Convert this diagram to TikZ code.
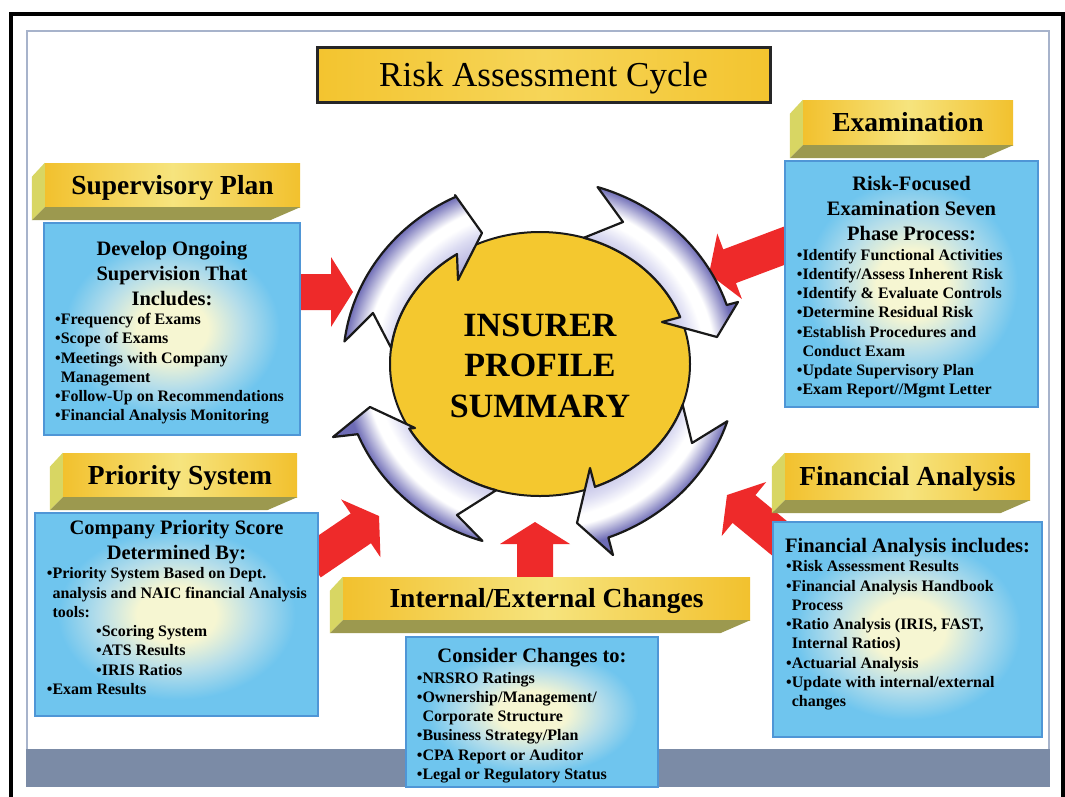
\documentclass[tikz,border=0pt]{standalone}
\usepackage{fontspec}
\setmainfont{Liberation Serif}
\usetikzlibrary{calc,shapes.geometric}

\definecolor{labY}{HTML}{F2C12E}
\definecolor{labL}{HTML}{F6E47E}
\definecolor{labSide}{HTML}{D8D663}
\definecolor{labBot}{HTML}{9C994F}
\definecolor{titY}{HTML}{F3C42F}
\definecolor{titL}{HTML}{F6D558}
\definecolor{boxB}{HTML}{6FC5EE}
\definecolor{boxM}{HTML}{B4DDEA}
\definecolor{boxC}{HTML}{F6F6D2}
\definecolor{boxLine}{HTML}{4F96D6}
\definecolor{redA}{HTML}{EE2A2A}
\definecolor{coreY}{HTML}{F4C82F}
\definecolor{bandG}{HTML}{7B8BA6}
\definecolor{frameL}{HTML}{A7B3CB}
\definecolor{lavD}{HTML}{6E6CB6}
\definecolor{lavM}{HTML}{A9A7DA}
\definecolor{lavL}{HTML}{DCDCF2}

\pgfdeclareradialshading{boxshade}{\pgfpoint{0bp}{0bp}}{color(0bp)=(boxC); color(7bp)=(boxC); color(14bp)=(boxM); color(21bp)=(boxB); color(50bp)=(boxB)}
\pgfdeclareradialshading{bandshade}{\pgfpoint{0bp}{0bp}}{color(0bp)=(lavM); color(12bp)=(lavM); color(15bp)=(lavL); color(16.5bp)=(white); color(17.5bp)=(white); color(19.7bp)=(lavD); color(23bp)=(lavD); color(50bp)=(lavD)}

\pgfdeclarelayer{back}
\pgfdeclarelayer{reds}
\pgfdeclarelayer{ring}
\pgfsetlayers{back,reds,ring,main}

% red block arrow from #1 to tip #2
\newcommand\redarrow[2]{%
  \coordinate (#2b) at ($(#2)!22pt!(#1)$);
  \fill[redarr] ($(#1)!18pt!90:(#2)$) -- ($(#2b)!18pt!90:(#2)$) -- ($(#2b)!35pt!90:(#2)$) -- (#2)
    -- ($(#2b)!35pt!-90:(#2)$) -- ($(#2b)!18pt!-90:(#2)$) -- ($(#1)!18pt!-90:(#2)$) -- cycle;}

% curved cycle arrow: #1 tail angle, #2 outer end angle, #3 inner end angle, #4 prefix of head points
\newcommand\ringpath[4]{plot[domain=#1:#2,samples=40,variable=\t]({540+197*cos(\t)},{364-185*sin(\t)})
  -- (#4HO) -- (#4AP) -- (#4HI)
  -- plot[domain=#3:#1,samples=40,variable=\t]({540+150*cos(\t)},{364-132*sin(\t)})
  -- (#4NT) -- cycle}

\newcommand\ringarrow[4]{%
  \begin{scope}
    \clip \ringpath{#1}{#2}{#3}{#4};
    \shade[shading=bandshade] (540,364) ellipse [x radius=250pt, y radius=235pt];
  \end{scope}
  \draw[ringline] \ringpath{#1}{#2}{#3}{#4};}

% 3D label: name, centre, width, height, text
\newcommand\threedlabel[5]{%
  \node[labfront, minimum width=#3, minimum height=#4] (#1) at (#2) {#5};
  \fill[labside] (#1.north west) -- ++(-13,14) -- ($(#1.south west)+(-13,13)$) -- (#1.south west) -- cycle;
  \fill[labbot] (#1.south west) -- (#1.south east) -- ($(#1.south east)+(-30,13)$) -- ($(#1.south west)+(-13,13)$) -- cycle;}

\begin{document}
\begin{tikzpicture}[x=1pt,y=-1pt,
  labfront/.style={left color=labY, right color=labY, middle color=labL, inner sep=0pt,
    font=\fontsize{27.5}{30}\selectfont\bfseries, text height=18.2pt, text depth=0pt},
  labside/.style={fill=labSide},
  labbot/.style={fill=labBot},
  bluebox/.style={draw=boxLine, line width=1.2pt, shade, shading=boxshade, inner sep=0pt},
  headtxt/.style={font=\fontsize{20.5}{25}\selectfont\bfseries, align=center, inner sep=0pt, anchor=north},
  bultxt/.style={font=\fontsize{16}{19.25}\selectfont\bfseries, align=left, inner sep=0pt, anchor=north west},
  redarr/.style={fill=redA},
  ringline/.style={draw=black!90, line width=2.2pt, line join=round},
  titlebox/.style={draw=black!85, line width=3pt, left color=titY, right color=titY, middle color=titL,
    inner sep=0pt, minimum width=453pt, minimum height=55pt,
    font=\fontsize{35}{40}\selectfont, text height=23.2pt, text depth=0pt},
  core/.style={ellipse, draw=black!90, line width=2pt, fill=coreY, minimum width=300pt,
    minimum height=264pt, inner sep=0pt},
  coretxt/.style={font=\fontsize{34}{40.5}\selectfont\bfseries, align=center, inner sep=0pt}
]
\useasboundingbox (0,0) rectangle (1065,796);

\begin{pgfonlayer}{back}
  \fill[white] (0,0) rectangle (1065,796);
  \fill[bandG] (26,749) rectangle (1050,787);
  \draw[frameL, line width=1.5pt] (27,749) -- (27,31) -- (1049,31) -- (1049,749);
  \draw[line width=4pt] (11,830) -- (11,14) -- (1063,14) -- (1063,830);
\end{pgfonlayer}

% title
\node[titlebox] (title) at (543.5,75) {Risk Assessment Cycle};

% labels
\threedlabel{suplab}{172.5,185}{255pt}{44pt}{Supervisory Plan}
\threedlabel{exlab}{908,122.5}{210pt}{45pt}{Examination}
\threedlabel{priolab}{180,475}{234pt}{44pt}{Priority System}
\threedlabel{finlab}{907.5,476.5}{245pt}{47pt}{Financial Analysis}
\threedlabel{intlab}{546.5,598.5}{407pt}{43pt}{Internal/External Changes}

% blue boxes
\node[bluebox, minimum width=256pt, minimum height=212pt] (supbox) at (172,329) {};
\node[bluebox, minimum width=253pt, minimum height=246pt] (exbox) at (911.5,284) {};
\node[bluebox, minimum width=283pt, minimum height=203pt] (priobox) at (176.5,614.5) {};
\node[bluebox, minimum width=269pt, minimum height=215pt] (finbox) at (907.5,629.5) {};
\node[bluebox, minimum width=252pt, minimum height=150pt] (conbox) at (532,712) {};

% box texts
\node[headtxt] (suphead) at (172,239.8) {\rule{0pt}{15pt}Develop Ongoing\\Supervision That\\Includes:};
\node[bultxt] (supbul) at (55,312.3) {\rule{0pt}{12pt}•Frequency of Exams\\•Scope of Exams\\•Meetings with Company\\\hphantom{•}Management\\•Follow-Up on Recommendations\\•Financial Analysis Monitoring};

\node[headtxt] (exhead) at (911.5,174.8) {\rule{0pt}{15pt}Risk-Focused\\Examination Seven\\Phase Process:};
\node[bultxt] (exbul) at (796.7,248) {\rule{0pt}{12pt}•Identify Functional Activities\\•Identify/Assess Inherent Risk\\•Identify \& Evaluate Controls\\•Determine Residual Risk\\•Establish Procedures and\\\hphantom{•}Conduct Exam\\•Update Supervisory Plan\\•Exam Report//Mgmt Letter};

\node[headtxt] (priohead) at (176.5,518.8) {\rule{0pt}{15pt}Company Priority Score\\Determined By:};
\node[bultxt] (priobul) at (46.7,566.6) {\rule{0pt}{12pt}•Priority System Based on Dept.\\\hphantom{•}analysis and NAIC financial Analysis\\\hphantom{•}tools:\\\hspace*{49.3pt}•Scoring System\\\hspace*{49.3pt}•ATS Results\\\hspace*{49.3pt}•IRIS Ratios\\•Exam Results};

\node[headtxt] (finhead) at (907.5,537.3) {\rule{0pt}{15pt}Financial Analysis includes:};
\node[bultxt] (finbul) at (786,559.6) {\rule{0pt}{12pt}•Risk Assessment Results\\•Financial Analysis Handbook\\\hphantom{•}Process\\•Ratio Analysis (IRIS, FAST,\\\hphantom{•}Internal Ratios)\\•Actuarial Analysis\\•Update with internal/external\\\hphantom{•}changes};

\node[headtxt] (conhead) at (532,646.8) {\rule{0pt}{15pt}Consider Changes to:};
\node[bultxt] (conbul) at (416.7,671) {\rule{0pt}{12pt}•NRSRO Ratings\\•Ownership/Management/\\\hphantom{•}Corporate Structure\\•Business Strategy/Plan\\•CPA Report or Auditor\\•Legal or Regulatory Status};

% red arrows (under everything else)
\begin{pgfonlayer}{reds}
  \coordinate (r1t) at (353,292);
  \coordinate (r1s) at (supbox.east |- r1t);
  \coordinate (r2t) at (709,274);
  \coordinate (r2s) at ($(exbox.west)+(15,-44)$);
  \coordinate (r3t) at (379,516);
  \coordinate (r3s) at ($(priobox.east)+(-8,-52)$);
  \coordinate (r4t) at (535,522);
  \coordinate (r4s) at ($(intlab.north)+(-11.5,12)$);
  \coordinate (r5t) at (727,495);
  \coordinate (r5s) at ($(finbox.north west)+(23,30)$);
  \redarrow{r1s}{r1t}
  \redarrow{r2s}{r2t}
  \redarrow{r3s}{r3t}
  \redarrow{r4s}{r4t}
  \redarrow{r5s}{r5t}
\end{pgfonlayer}

% centre and cycle arrows
\begin{pgfonlayer}{ring}
  \node[core] (core) at (540,364) {};
  \node[coretxt] (coretext) at (540,365.5) {INSURER\\PROFILE\\SUMMARY};

  \coordinate (tlHO) at (455,195); \coordinate (tlAP) at (482,233);
  \coordinate (tlHI) at (458,280); \coordinate (tlNT) at (373,313);
  \coordinate (trHO) at (738,302); \coordinate (trAP) at (717,337);
  \coordinate (trHI) at (662,322); \coordinate (trNT) at (623,222);
  \coordinate (brHO) at (613,555); \coordinate (brAP) at (577,523);
  \coordinate (brHI) at (590,468); \coordinate (brNT) at (692,443);
  \coordinate (blHO) at (333,437); \coordinate (blAP) at (370,407);
  \coordinate (blHI) at (415,428); \coordinate (blNT) at (457,515);

  \ringarrow{173}{115.2}{123.6}{tl}
  \ringarrow{73}{18.6}{20.8}{tr}
  \ringarrow{-18}{-69.7}{-68.5}{br}
  \ringarrow{253}{202.3}{209.3}{bl}
\end{pgfonlayer}
\end{tikzpicture}
\end{document}
